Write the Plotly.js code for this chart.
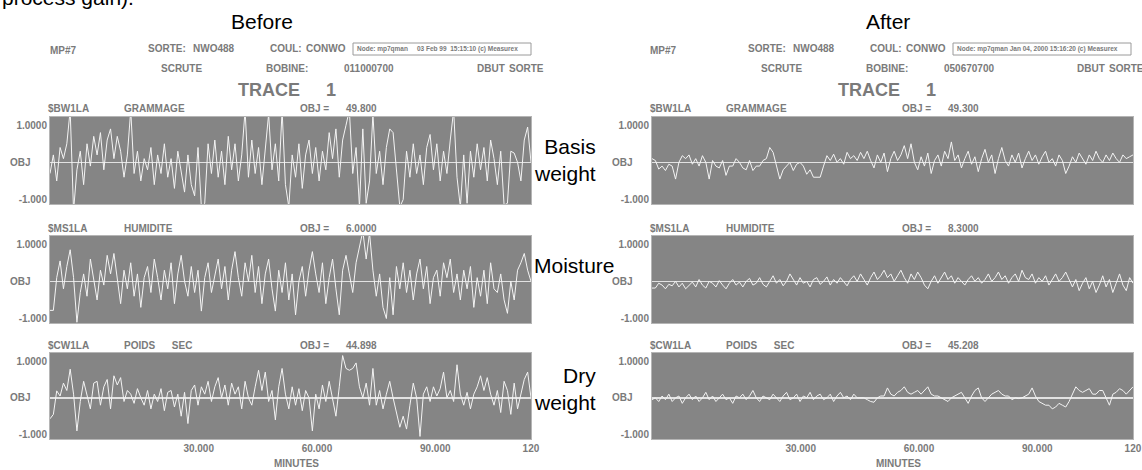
<!DOCTYPE html>
<html><head><meta charset="utf-8">
<script src="https://cdn.plot.ly/plotly-3.0.1.min.js"></script>
<style>html,body{margin:0;padding:0;background:#fff}#chart{width:1142px;height:470px}</style>
</head><body><div id="chart"></div>
<script>
// ---------- data ----------
const panelTitles = ['Before', 'After'];
const nodeStamps = ['Node: mp7qman\u00a0\u00a0\u00a0\u00a0\u00a003 Feb 99\u00a0\u00a015:15:10 (c) Measurex',
                    'Node: mp7qman Jan 04, 2000 15:16:20 (c) Measurex'];
const bobines = ['011000700', '050670700'];
const channelCodes = ['$BW1LA', '$MS1LA', '$CW1LA'];
const channelNames = ['GRAMMAGE', 'HUMIDITE', 'POIDS\u00a0\u00a0\u00a0\u00a0\u00a0\u00a0SEC'];
const objValuesBefore = ['49.800', '6.0000', '44.898'];
const objValuesAfter = ['49.300', '8.3000', '45.208'];
const sideLabels = ['Basis<br>weight', 'Moisture', 'Dry<br>weight'];
const xTickText = ['30.000', '60.000', '90.000', '120'];
const xTickMinutes = [30, 60, 90];
const yTickVals = [1, -1];
const yTickText = ['1.0000', '-1.000'];
const T_START = -7.72, T_END = 114.3;

const beforeBasisWeight = [-0.3,0.2,-0.5,0.4,0.1,0.5,1.4,-1.3,-0.2,0.3,-0.6,0.5,-0.1,0.7,0.2,0.8,-0.2,0.6,0.9,0.1,
 0.7,0.3,-0.4,0.2,1.4,-0.3,0.3,-0.5,0.1,-0.2,0.4,-0.6,0.2,-0.3,0.5,-0.4,0.1,-0.7,0.3,-0.2,
 -0.8,0.2,-0.6,-0.9,0.4,-1.2,-1.1,0.5,-0.3,0.6,-0.4,0.3,-0.6,0.7,-0.2,0.5,-0.5,0.2,1.4,-0.4,
 0.6,-0.3,0.4,-0.6,0.3,1.3,-0.2,0.5,-0.5,1.4,-0.6,-1.2,0.2,-0.4,0.5,-0.7,0.2,0.6,-0.3,0.4,
 -0.5,0.3,-0.2,0.8,0.1,0.9,-0.4,0.6,1.0,1.4,-0.3,0.4,-1.2,0.9,-1.1,-0.5,1.3,-0.3,0.3,-0.6,
 0.4,0.9,0.8,-0.2,-1.2,-1.0,0.3,-0.4,0.5,-0.3,0.2,-0.6,0.4,0.75,-0.2,0.5,-0.5,0.3,-0.3,0.6,
 1.4,-0.4,-1.2,0.2,-1.1,0.3,-0.4,0.5,-0.2,0.4,-0.5,0.6,0.1,-0.6,0.3,-1.15,-1.1,0.3,0.25,0.0,
 -0.5,0.6,0.95,0.0];
const beforeMoisture = [-0.78,-0.78,0.1,0.55,-0.2,0.4,0.85,0.1,-1.1,-0.3,0.2,-0.4,0.6,0.1,-0.5,0.3,-0.1,0.7,0.2,0.75,
 0.0,-0.6,0.3,-0.2,0.5,-0.4,0.2,-0.7,0.1,0.4,-0.3,0.6,0.1,-0.5,0.3,-0.2,0.5,-0.6,0.2,0.7,
 0.0,-0.4,0.4,-0.3,0.3,-0.8,0.1,0.5,-0.3,0.2,0.6,-0.2,0.4,-0.5,0.3,0.8,0.1,-0.4,0.5,0.0,
 0.7,-0.3,0.4,-0.6,0.2,0.6,-0.2,-0.8,0.3,-0.3,0.5,-0.5,0.2,-0.9,0.0,0.4,-0.4,0.3,0.8,0.2,
 -0.3,0.5,-0.6,0.1,0.6,-0.2,-0.9,0.3,0.7,0.2,-0.3,0.5,1.0,1.35,0.6,1.3,0.3,-0.4,0.2,-0.7,
 -1.0,0.1,-0.9,0.4,-0.2,0.5,-0.3,0.3,-0.5,0.2,0.6,-0.2,0.4,-0.6,0.1,0.3,-0.4,0.5,0.1,0.6,
 -0.3,0.2,-0.5,0.3,-0.2,0.4,-0.7,0.1,-0.4,0.3,-0.6,0.5,-0.2,-0.3,0.2,-0.5,-0.86,0.0,-0.5,0.3,
 0.5,0.75,0.3,0.0];
const beforeDryWeight = [-0.57,-0.45,0.19,0.05,0.4,0.2,0.78,0.1,-0.9,-0.1,0.45,0.1,-0.3,0.4,0.45,-0.2,0.3,0.5,-0.3,0.6,
 0.35,0.55,-0.1,0.2,0.1,-0.15,0.25,0.0,-0.2,0.2,-0.3,0.1,-0.1,0.25,-0.35,0.15,0.2,-0.25,0.1,-0.5,
 0.15,-0.7,0.2,0.35,-0.2,0.3,0.1,0.45,-0.1,0.3,0.55,0.0,0.35,-0.2,0.4,0.1,0.3,-0.3,0.45,0.0,
 -0.2,0.3,0.75,0.2,0.7,-0.1,0.2,-0.6,0.3,0.8,0.1,-0.3,0.3,-0.2,0.25,-0.35,0.2,0.0,-0.9,0.1,
 -0.3,0.35,-0.1,0.45,0.0,-0.5,0.3,1.15,0.8,0.75,0.8,0.95,0.3,0.0,0.4,-0.2,0.8,-0.2,0.2,-0.3,
 0.1,0.45,0.0,-0.4,-0.8,-0.5,-0.85,-0.2,0.4,0.0,-1.05,0.1,0.3,-0.1,0.3,0.05,0.25,0.7,0.0,0.2,
 -0.1,0.9,0.1,-0.2,0.15,-0.3,0.1,0.3,0.6,0.2,0.55,0.1,-0.2,0.2,-0.4,0.45,0.2,-0.45,0.4,-0.3,
 0.1,0.5,0.7,0.0];
const afterBasisWeight = [0.1,0.05,-0.18,-0.1,-0.22,-0.05,-0.1,-0.45,0.0,0.18,0.1,0.2,-0.05,0.1,-0.1,0.18,0.0,-0.45,0.05,-0.1,
 -0.15,0.05,-0.35,-0.1,-0.1,0.1,0.0,-0.15,-0.2,0.05,-0.22,-0.1,-0.1,0.05,0.1,0.4,0.27,-0.1,-0.45,-0.2,
 -0.1,0.0,-0.22,-0.05,0.0,-0.1,-0.32,-0.2,-0.4,-0.4,-0.4,-0.1,0.18,0.05,0.22,0.0,0.1,-0.05,0.27,0.1,
 0.18,0.05,0.27,0.1,0.3,0.05,-0.15,0.2,0.0,0.25,-0.25,0.1,0.3,0.05,0.2,0.45,0.1,0.5,0.0,-0.2,
 0.15,-0.1,0.25,-0.3,0.05,0.2,-0.1,0.3,0.1,0.55,0.05,0.2,-0.15,0.1,0.3,-0.05,0.15,-0.25,0.1,0.35,
 0.0,0.2,-0.3,0.1,0.4,0.05,-0.1,0.2,0.0,0.25,-0.15,0.1,0.3,0.05,0.2,-0.05,0.15,0.3,0.0,0.1,
 -0.1,0.2,0.05,-0.3,-0.1,0.15,0.0,0.25,0.1,-0.05,0.2,0.05,0.3,0.1,0.0,0.2,0.05,0.25,0.1,0.0,
 0.2,0.1,0.15,0.2];
const afterMoisture = [-0.18,-0.18,-0.05,-0.1,-0.2,-0.08,-0.12,0.0,-0.15,-0.05,-0.2,-0.1,-0.02,-0.15,0.05,-0.1,-0.18,0.0,-0.05,-0.15,
 0.02,-0.1,-0.2,-0.05,0.05,-0.1,-0.02,-0.15,0.0,0.08,-0.1,-0.05,0.1,-0.08,-0.15,0.0,0.15,-0.05,0.05,-0.12,
 0.0,0.2,0.05,-0.1,0.1,-0.05,0.0,-0.15,0.05,0.1,-0.08,0.0,0.12,-0.1,0.05,-0.05,0.1,0.0,-0.12,0.05,
 0.15,0.0,0.2,0.05,-0.1,0.1,0.25,0.05,0.15,0.3,0.1,0.2,0.0,0.15,0.3,0.1,-0.05,0.2,0.05,0.25,
 0.1,-0.1,-0.2,0.0,0.15,-0.05,0.1,0.25,0.05,0.15,-0.05,0.1,0.0,-0.1,0.05,0.15,0.0,0.1,-0.05,0.05,
 0.2,0.0,0.1,0.25,0.05,0.15,-0.05,0.1,0.2,0.0,0.3,0.1,0.05,0.2,-0.05,0.1,0.0,0.15,-0.1,0.05,
 0.2,0.0,0.1,0.25,0.05,-0.15,0.05,-0.25,-0.05,0.1,-0.2,0.0,-0.3,-0.1,0.15,-0.15,0.05,-0.3,-0.05,0.2,
 -0.1,-0.25,0.1,-0.05];
const afterDryWeight = [-0.05,0.0,-0.1,0.05,-0.05,0.1,-0.1,0.0,0.05,-0.15,0.0,0.1,-0.05,0.05,-0.1,0.0,0.15,-0.05,0.05,-0.1,
 0.0,0.1,-0.05,0.0,-0.15,0.05,0.0,0.1,-0.05,0.05,0.2,0.0,-0.1,0.05,0.0,-0.05,0.1,0.0,-0.1,0.05,
 0.15,-0.05,0.0,0.1,-0.1,0.05,0.0,0.15,-0.05,0.05,0.1,-0.05,0.0,0.1,-0.1,0.05,0.15,0.0,0.05,-0.05,
 0.1,0.0,0.0,0.0,-0.05,-0.1,-0.12,0.0,0.05,0.05,0.27,0.1,0.05,0.15,0.2,0.3,0.15,0.1,0.15,0.2,
 0.1,0.2,0.3,0.1,0.05,0.05,0.0,-0.05,-0.1,0.0,0.05,0.1,0.15,0.0,-0.15,0.05,0.2,0.27,0.0,-0.1,
 0.0,0.1,0.15,0.2,0.1,0.05,0.05,-0.05,0.0,-0.02,0.0,0.05,0.1,0.27,0.05,-0.1,-0.15,-0.2,-0.2,-0.3,
 -0.25,-0.15,-0.2,-0.25,-0.1,0.1,0.3,0.2,0.15,0.2,0.25,0.1,0.1,0.2,0.2,0.0,-0.2,0.1,0.15,0.25,
 0.2,0.1,0.2,0.3];

// ---------- helpers ----------
const W = 1142, H = 470;
const px = x => x / W;
const py = y => 1 - y / H;
const HDR_FONT = {family: 'Liberation Sans, Arial, Helvetica, sans-serif', size: 10, color: '#7a7a7a', weight: 'bold'};
const BIG_FONT = {family: 'Liberation Sans, Arial, Helvetica, sans-serif', size: 21, color: '#000', weight: 'normal'};
function note(text, x, y, font, xanchor, extra) {
  return Object.assign({text: text, x: px(x), y: py(y), xref: 'paper', yref: 'paper',
    xanchor: xanchor || 'left', yanchor: 'middle', showarrow: false,
    font: Object.assign({}, HDR_FONT, font || {})}, extra || {});
}
const minutes = (n) => Array.from({length: n}, (_, i) => T_START + i * (T_END - T_START) / (n - 1));

const series = [
  [beforeBasisWeight, beforeMoisture, beforeDryWeight],
  [afterBasisWeight, afterMoisture, afterDryWeight]
];
const objValues = [objValuesBefore, objValuesAfter];

// pixel geometry of plot areas
const panelLeft = [50, 652];
const plotWidth = 481;
const rowTop = [117, 236, 353];
const rowBottom = [204, 323, 439];

const data = [];
const layout = {
  width: W, height: H, margin: {l: 0, r: 0, t: 0, b: 0},
  paper_bgcolor: '#ffffff', plot_bgcolor: '#858585',
  showlegend: false, annotations: [], shapes: [],
  font: HDR_FONT
};

let k = 0;
for (let p = 0; p < 2; p++) {
  const off = panelLeft[p] - 50;
  const hoff = p === 0 ? 0 : 600;
  for (let r = 0; r < 3; r++) {
    k++;
    const xa = k === 1 ? 'xaxis' : 'xaxis' + k;
    const ya = k === 1 ? 'yaxis' : 'yaxis' + k;
    const xr = k === 1 ? 'x' : 'x' + k;
    const yr = k === 1 ? 'y' : 'y' + k;
    const vals = series[p][r];
    data.push({type: 'scatter', mode: 'lines', x: minutes(vals.length), y: vals,
      xaxis: xr, yaxis: yr, line: {color: '#f4f4f4', width: 1}, hoverinfo: 'skip'});
    const bottom = r === 2;
    layout[xa] = {domain: [px(panelLeft[p]), px(panelLeft[p] + plotWidth)], anchor: yr,
      range: [T_START, T_END], showgrid: false, zeroline: false,
      showline: true, mirror: true, linecolor: '#b5b5b5', linewidth: 1,
      ticks: '', showticklabels: bottom, ticklabeloverflow: 'allow',
      tickvals: xTickMinutes.concat([T_END - 0.01]), ticktext: xTickText,
      tickfont: HDR_FONT};
    layout[ya] = {domain: [py(rowBottom[r]), py(rowTop[r])], anchor: xr,
      range: [-1.12, 1.22], showgrid: false,
      zeroline: true, zerolinecolor: '#e2e2e2', zerolinewidth: 1.5,
      showline: true, mirror: true, linecolor: '#b5b5b5', linewidth: 1,
      ticks: '', tickvals: yTickVals, ticktext: yTickText, ticklabeloverflow: 'allow',
      tickfont: HDR_FONT};
    // OBJ label at the zero line
    layout.annotations.push({text: 'OBJ', xref: 'paper', yref: yr, x: px(panelLeft[p] - 42), y: 0,
      xanchor: 'left', yanchor: 'middle', showarrow: false, font: HDR_FONT});
    // row labels
    const ly = rowTop[r] - 8;
    layout.annotations.push(note(channelCodes[r], 46 + off, ly));
    layout.annotations.push(note(channelNames[r], 122 + off, ly));
    layout.annotations.push(note('OBJ =', 298 + off, ly));
    layout.annotations.push(note(objValues[p][r], 344 + off, ly));
  }
  // header rows
  layout.annotations.push(note('MP#7', 48 + hoff, 50));
  layout.annotations.push(note('SORTE:', 146 + hoff, 49));
  layout.annotations.push(note('NWO488', 191 + hoff, 49));
  layout.annotations.push(note('COUL:', 268 + hoff, 49));
  layout.annotations.push(note('CONWO', 304 + hoff, 49));
  layout.shapes.push({type: 'rect', xref: 'paper', yref: 'paper',
    x0: px(353 + hoff), x1: px(531 + hoff), y0: py(55), y1: py(43),
    line: {color: '#9a9a9a', width: 1}});
  layout.annotations.push(note(nodeStamps[p], 355 + hoff, 49, {size: 6.5}));
  layout.annotations.push(note('SCRUTE', 159 + hoff, 68));
  layout.annotations.push(note('BOBINE:', 264 + hoff, 68));
  layout.annotations.push(note(bobines[p], 342 + hoff, 68));
  layout.annotations.push(note('DBUT', 475 + hoff, 68));
  layout.annotations.push(note('SORTE', 507 + hoff, 68));
  layout.annotations.push(note('TRACE', 236 + hoff, 90, {size: 18}));
  layout.annotations.push(note('1', 324 + hoff, 90, {size: 18}));
  // bottom axis title
  layout.annotations.push(note('MINUTES', 272 + off, 463));
  // panel title
  layout.annotations.push(note(panelTitles[p], [262, 888][p], 22, BIG_FONT, 'center'));
}
// side labels
layout.annotations.push(note(sideLabels[0], 598, 160, BIG_FONT, 'right', {align: 'right'}));
layout.annotations.push(note(sideLabels[1], 532, 265, BIG_FONT, 'left'));
layout.annotations.push(note(sideLabels[2], 598, 389, BIG_FONT, 'right', {align: 'right'}));
// clipped caption line at the very top
layout.annotations.push(note('process gain).', 0, -3, BIG_FONT, 'left'));

Plotly.newPlot('chart', data, layout, {displayModeBar: false, staticPlot: true});
</script>
</body></html>
